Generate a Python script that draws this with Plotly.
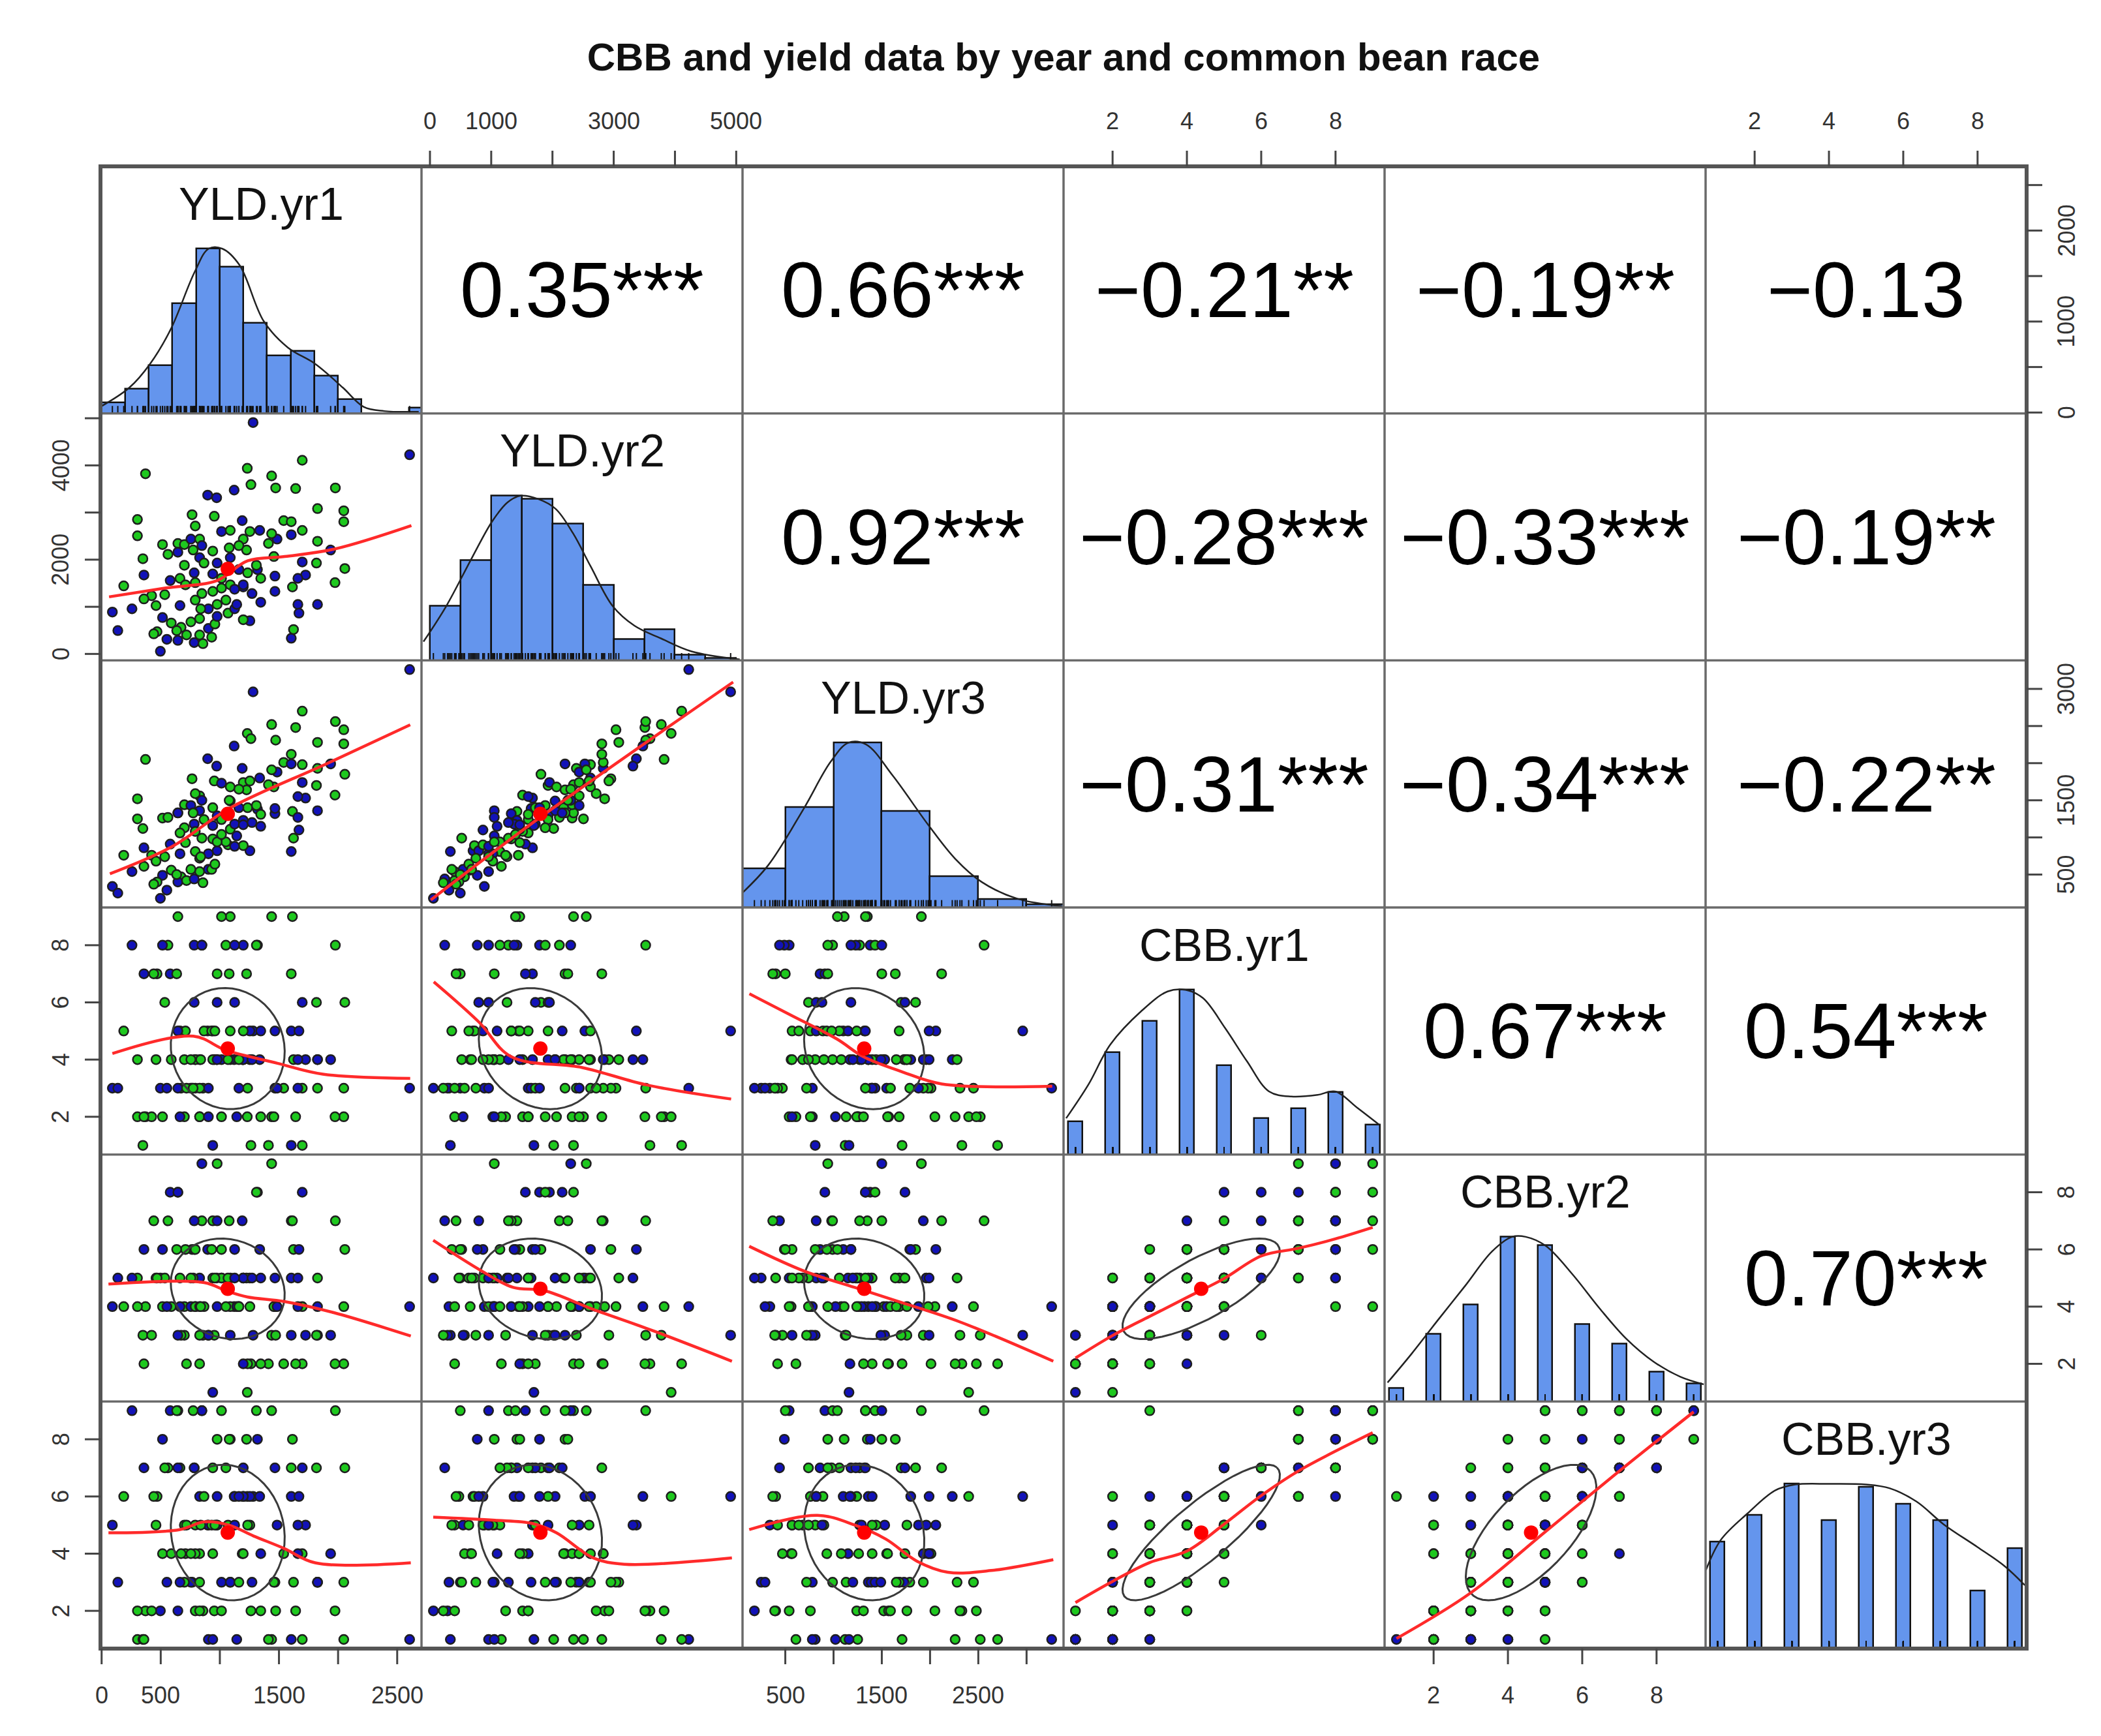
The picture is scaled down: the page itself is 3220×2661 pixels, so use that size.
import numpy as np
import plotly.graph_objects as go
from plotly.subplots import make_subplots

# ---------------- data ----------------
var_names = ["YLD.yr1", "YLD.yr2", "YLD.yr3", "CBB.yr1", "CBB.yr2", "CBB.yr3"]

# N = navy points, G = green points (two common bean races)
race = ["N", "N", "G", "G", "G", "G", "G", "G", "G", "G",
        "N", "N", "N", "G", "G", "G", "G", "G", "G", "G",
        "N", "G", "G", "G", "N", "G", "N", "G", "N", "G",
        "N", "N", "N", "N", "G", "G", "N", "N", "G", "N",
        "G", "G", "N", "N", "N", "G", "N", "N", "N", "N",
        "N", "N", "G", "G", "N", "N", "G", "G", "G", "G",
        "G", "N", "G", "G", "N", "G", "G", "G", "G", "G",
        "N", "N", "N", "G", "N", "G", "G", "N", "G", "G",
        "G", "G", "N", "G", "G", "G", "G", "G", "N", "G",
        "G", "G", "G", "N", "G", "G", "G", "N", "N", "G",
        "N", "G", "G", "N", "G", "G", "N", "N", "G", "G",
        "G", "N", "N", "G", "G", "G", "N", "N", "N", "G",
        "N", "N", "N", "G", "N", "G", "G", "G", "G", "G"]

yld_yr1 = [1281, 2605, 1697, 371, 1232, 1263, 1438, 1472, 1641, 1977,
           897, 973, 1121, 1826, 2048, 2048, 303, 303, 765, 953,
           1189, 1540, 1604, 1697, 1604, 1826, 1937, 349, 358, 187,
           91, 257, 137, 497, 2057, 1974, 1826, 1604, 1623, 1254,
           1198, 1817, 1697, 1725, 1660, 1614, 1660, 1669, 1466, 1466,
           1346, 1318, 1457, 1411, 1484, 1337, 1438, 515, 561, 645,
           700, 755, 829, 792, 1014, 1088, 1198, 1254, 1226, 940,
           829, 977, 1088, 866, 783, 700, 663, 580, 792, 709,
           1235, 1309, 1198, 1088, 1014, 940, 848, 792, 663, 534,
           423, 358, 460, 515, 589, 672, 469, 552, 645, 718,
           783, 857, 829, 903, 931, 958, 977, 903, 829, 838,
           1069, 1125, 1143, 1051, 977, 1014, 1125, 1198, 1272, 1346,
           1161, 940, 848, 774, 645, 1079, 1161, 635, 441, 755]

yld_yr2 = [4909, 4225, 4109, 3823, 3938, 3592, 3777, 3522, 3509, 3522,
           3370, 3314, 3476, 3083, 3037, 2806, 2852, 2506, 2954, 2921,
           2829, 2829, 2806, 2621, 2529, 2390, 2205, 2020, 1674, 1443,
           888, 957, 495, 56, 1812, 1512, 1050, 333, 518, 703,
           726, 1928, 1951, 1674, 1604, 1420, 1050, 865, 1327, 1651,
           1096, 1789, 2066, 2344, 2436, 2621, 2552, 2321, 2113, 2344,
           2321, 2436, 2436, 2714, 2598, 2621, 2436, 2598, 2205, 2182,
           2043, 1928, 2043, 1928, 1720, 1882, 1604, 1558, 1512, 1466,
           1720, 1882, 1420, 1466, 1604, 1327, 1281, 1142, 1026, 1258,
           1235, 1166, 1026, 772, 657, 564, 472, 310, 287, 403,
           241, 218, 403, 541, 356, 634, 796, 957, 749, 957,
           865, 957, 1050, 1142, 1050, 1396, 1373, 1466, 1281, 1604,
           1789, 1697, 2298, 2205, 2159, 2251, 2298, 495, 426, 680]

yld_yr3 = [2960, 3260, 2700, 2050, 2400, 2330, 2520, 2310, 2480, 2560,
           2060, 1960, 2230, 2280, 2450, 2260, 1520, 1250, 1790, 1760,
           1930, 2010, 2120, 1980, 1990, 1930, 1990, 1120, 860, 760,
           340, 540, 250, 180, 1850, 1570, 1360, 810, 990, 820,
           890, 1700, 1740, 1530, 1550, 1350, 1270, 1100, 1320, 1390,
           1150, 1380, 1680, 1710, 1880, 1800, 1910, 1260, 1270, 1330,
           1440, 1430, 1560, 1590, 1730, 1680, 1740, 1760, 1640, 1400,
           1360, 1290, 1490, 1240, 1180, 1130, 1060, 910, 1080, 930,
           1400, 1430, 1230, 1110, 1240, 980, 990, 810, 780, 740,
           760, 610, 680, 490, 560, 470, 400, 290, 400, 420,
           440, 390, 540, 570, 570, 640, 820, 780, 720, 740,
           900, 880, 1020, 940, 940, 1040, 1180, 1170, 1200, 1310,
           1400, 1160, 1500, 1330, 1330, 1500, 1650, 500, 370, 570]

cbb_yr1 = [5, 3, 1, 2, 2, 1, 2, 3, 2, 8,
           5, 4, 4, 4, 3, 2, 4, 2, 3, 4,
           4, 3, 7, 3, 5, 3, 4, 1, 7, 5,
           3, 8, 3, 3, 6, 2, 4, 1, 4, 5,
           5, 6, 6, 4, 3, 9, 4, 5, 5, 3,
           5, 8, 2, 1, 3, 4, 9, 2, 8, 9,
           4, 3, 2, 3, 4, 5, 4, 4, 7, 4,
           4, 4, 4, 5, 6, 2, 5, 7, 4, 5,
           3, 8, 8, 9, 2, 5, 8, 4, 2, 6,
           2, 2, 4, 8, 4, 3, 7, 3, 3, 3,
           8, 3, 2, 2, 5, 5, 6, 3, 3, 4,
           4, 6, 2, 8, 7, 9, 8, 4, 4, 2,
           3, 1, 8, 3, 5, 7, 4, 7, 7, 4]

cbb_yr2 = [3, 4, 2, 4, 1, 2, 3, 3, 2, 7,
           6, 5, 4, 5, 4, 2, 4, 5, 6, 3,
           7, 2, 7, 4, 5, 3, 3, 3, 6, 4,
           4, 5, 5, 5, 6, 2, 4, 3, 6, 5,
           5, 3, 8, 3, 4, 7, 5, 6, 4, 5,
           5, 8, 4, 2, 4, 6, 9, 4, 7, 8,
           4, 4, 2, 4, 5, 5, 5, 4, 5, 5,
           5, 4, 3, 4, 6, 3, 5, 8, 4, 6,
           2, 8, 5, 4, 5, 7, 7, 6, 4, 5,
           3, 2, 5, 6, 4, 3, 5, 4, 3, 2,
           7, 3, 4, 3, 6, 5, 7, 3, 3, 4,
           5, 5, 4, 4, 9, 6, 6, 2, 5, 2,
           4, 1, 9, 5, 8, 7, 4, 6, 7, 5]

cbb_yr3 = [6, 1, 1, 2, 6, 2, 1, 2, 2, 9,
           5, 5, 6, 3, 3, 1, 2, 1, 3, 2,
           4, 4, 7, 4, 6, 3, 4, 1, 7, 6,
           5, 9, 3, 2, 7, 2, 3, 1, 3, 6,
           6, 7, 7, 5, 4, 8, 5, 6, 7, 3,
           4, 8, 3, 1, 5, 6, 9, 4, 7, 9,
           5, 3, 4, 2, 3, 3, 4, 5, 8, 4,
           6, 5, 3, 6, 7, 3, 7, 9, 4, 4,
           5, 9, 7, 8, 2, 7, 9, 5, 3, 7,
           2, 1, 5, 8, 4, 4, 6, 3, 2, 5,
           7, 2, 2, 5, 5, 5, 6, 1, 3, 5,
           5, 5, 1, 7, 8, 9, 6, 6, 3, 2,
           6, 1, 9, 9, 7, 8, 3, 9, 6, 4]

# diagonal histograms (bar height relative to the tallest bar)
hist_yld1_breaks = [0, 200, 400, 600, 800, 1000, 1200, 1400, 1600, 1800, 2000, 2200, 2400, 2600, 2800]
hist_yld1 = [0.067, 0.15, 0.29, 0.67, 1.0, 0.89, 0.55, 0.35, 0.38, 0.23, 0.085, 0.0, 0.0, 0.036]
hist_yld2_breaks = [0, 500, 1000, 1500, 2000, 2500, 3000, 3500, 4000, 4500, 5000]
hist_yld2 = [0.33, 0.61, 1.0, 0.98, 0.83, 0.46, 0.13, 0.19, 0.036, 0.016]
hist_yld3_breaks = [0, 500, 1000, 1500, 2000, 2500, 3000, 3500]
hist_yld3 = [0.235, 0.61, 1.0, 0.585, 0.19, 0.05, 0.02]
cbb_levels = [1, 2, 3, 4, 5, 6, 7, 8, 9]
hist_cbb1 = [0.20, 0.62, 0.81, 1.0, 0.54, 0.22, 0.28, 0.38, 0.18]
hist_cbb2 = [0.08, 0.41, 0.59, 1.0, 0.95, 0.47, 0.35, 0.18, 0.11]
hist_cbb3 = [0.65, 0.81, 1.0, 0.78, 0.98, 0.88, 0.78, 0.35, 0.61]

# diagonal density curves (scaled to max 1)
dens_yld1_x = [-10, 234, 409, 584, 788, 905, 1021, 1167, 1371, 1575, 1808, 2041, 2216, 2391, 2682]
dens_yld1_y = [0.04, 0.156, 0.30, 0.51, 0.86, 1.0, 1.0, 0.90, 0.56, 0.40, 0.30, 0.156, 0.04, 0.014, 0.01]
dens_yld2_x = [-106, 266, 695, 1017, 1267, 1481, 1767, 2053, 2339, 2625, 2983, 3341, 3770, 4270, 5057]
dens_yld2_y = [0.114, 0.33, 0.63, 0.845, 0.96, 1.0, 0.98, 0.92, 0.77, 0.57, 0.33, 0.21, 0.134, 0.055, 0.006]
dens_yld3_x = [27, 321, 691, 968, 1152, 1337, 1614, 1983, 2260, 2537, 2906, 3367]
dens_yld3_y = [0.073, 0.255, 0.60, 0.883, 1.0, 0.99, 0.80, 0.50, 0.296, 0.154, 0.053, 0.008]
dens_cbb1_x = [0.75, 1.35, 1.94, 2.77, 3.48, 3.96, 4.43, 5.03, 5.62, 6.21, 6.81, 7.52, 7.99, 8.59, 9.18]
dens_cbb1_y = [0.22, 0.425, 0.668, 0.87, 0.99, 1.0, 0.95, 0.767, 0.565, 0.383, 0.352, 0.362, 0.383, 0.283, 0.18]
dens_cbb2_x = [0.76, 1.40, 2.12, 2.85, 3.57, 4.11, 4.48, 5.02, 5.74, 6.47, 7.19, 7.92, 8.64, 9.27]
dens_cbb2_y = [0.115, 0.288, 0.496, 0.703, 0.911, 1.0, 1.0, 0.945, 0.772, 0.565, 0.38, 0.242, 0.15, 0.104]
dens_cbb3_x = [0.69, 1.09, 1.82, 2.55, 3.09, 4.0, 5.0, 5.64, 6.36, 7.09, 8.0, 8.73, 9.27]
dens_cbb3_y = [0.477, 0.66, 0.823, 0.96, 0.996, 1.0, 0.996, 0.973, 0.892, 0.754, 0.616, 0.5, 0.385]

# red smoothers in the lower panels, (row, col) -> x, y
smooth_x_21 = [63, 534, 977, 1235, 1549, 1974, 2620]
smooth_y_21 = [1211, 1396, 1558, 1974, 2066, 2228, 2723]
smooth_x_31 = [70, 600, 1090, 1900, 2610]
smooth_y_31 = [510, 880, 1400, 1990, 2516]
smooth_x_32 = [14, 1765, 4950]
smooth_y_32 = [158, 1250, 3092]
smooth_x_41 = [91, 776, 1050, 1488, 1871, 2610]
smooth_y_41 = [4.21, 4.82, 4.33, 3.87, 3.49, 3.34]
smooth_x_42 = [62, 800, 1327, 2489, 3545, 4917]
smooth_y_42 = [6.72, 5.31, 4.10, 3.72, 3.11, 2.62]
smooth_x_43 = [128, 567, 1039, 1309, 1713, 2119, 3266]
smooth_y_43 = [6.30, 5.54, 4.71, 4.10, 3.57, 3.15, 3.07]
smooth_x_51 = [58, 867, 1050, 1232, 1545, 1963, 2615]
smooth_y_51 = [4.79, 4.84, 4.56, 4.34, 4.18, 3.79, 2.97]
smooth_x_52 = [53, 857, 1360, 1863, 2668, 3674, 4930]
smooth_y_52 = [6.32, 5.23, 4.67, 4.56, 3.90, 3.13, 2.09]
smooth_x_53 = [126, 705, 1220, 1670, 2313, 3277]
smooth_y_53 = [6.11, 5.23, 4.67, 4.18, 3.46, 2.09]
smooth_x_54 = [1, 2, 3, 4, 5, 6, 7, 8, 9]
smooth_y_54 = [2.2, 2.99, 3.66, 4.32, 4.98, 5.77, 6.04, 6.37, 6.77]
smooth_x_61 = [58, 658, 867, 1075, 1284, 1545, 1806, 2615]
smooth_y_61 = [4.73, 4.84, 5.11, 5.0, 4.62, 4.18, 3.68, 3.68]
smooth_x_62 = [53, 1059, 1662, 2065, 2668, 3171, 4930]
smooth_y_62 = [5.28, 5.17, 5.06, 4.73, 3.85, 3.63, 3.85]
smooth_x_63 = [126, 833, 1220, 1541, 1863, 2184, 2634, 3277]
smooth_y_63 = [4.84, 5.34, 5.0, 4.51, 3.74, 3.35, 3.41, 3.79]
smooth_x_64 = [1, 2, 3, 4, 5, 6, 7, 9]
smooth_y_64 = [2.29, 3.03, 3.69, 4.09, 5.03, 6.03, 6.89, 8.23]
smooth_x_65 = [1, 3, 5, 7, 9]
smooth_y_65 = [1.03, 2.63, 4.76, 6.89, 8.96]

# correlations printed in the upper panels
corr_labels = {
    (1, 2): "0.35***", (1, 3): "0.66***", (1, 4): "\u22120.21**", (1, 5): "\u22120.19**", (1, 6): "\u22120.13",
    (2, 3): "0.92***", (2, 4): "\u22120.28***", (2, 5): "\u22120.33***", (2, 6): "\u22120.19**",
    (3, 4): "\u22120.31***", (3, 5): "\u22120.34***", (3, 6): "\u22120.22**",
    (4, 5): "0.67***", (4, 6): "0.54***",
    (5, 6): "0.70***",
}

# outer axis ticks: (side, panel index, tick values, tick labels)
outer_ticks = [
    ("bottom", 1, [0, 500, 1000, 1500, 2000, 2500], ["0", "500", "", "1500", "", "2500"]),
    ("bottom", 3, [500, 1000, 1500, 2000, 2500, 3000], ["500", "", "1500", "", "2500", ""]),
    ("bottom", 5, [2, 4, 6, 8], ["2", "4", "6", "8"]),
    ("top", 2, [0, 1000, 2000, 3000, 4000, 5000], ["0", "1000", "", "3000", "", "5000"]),
    ("top", 4, [2, 4, 6, 8], ["2", "4", "6", "8"]),
    ("top", 6, [2, 4, 6, 8], ["2", "4", "6", "8"]),
    ("left", 2, [0, 1000, 2000, 3000, 4000, 5000], ["0", "", "2000", "", "4000", ""]),
    ("left", 4, [2, 4, 6, 8], ["2", "4", "6", "8"]),
    ("left", 6, [2, 4, 6, 8], ["2", "4", "6", "8"]),
    ("right", 1, [0, 500, 1000, 1500, 2000, 2500], ["0", "", "1000", "", "2000", ""]),
    ("right", 3, [500, 1000, 1500, 2000, 2500, 3000], ["500", "", "1500", "", "", "3000"]),
    ("right", 5, [2, 4, 6, 8], ["2", "4", "6", "8"]),
]

# ---------------- figure ----------------
FONT = "Liberation Sans, Arial, Helvetica, sans-serif"
# the page body keeps an 8 px margin, so the figure is 16 px smaller than the window
W, H = 3204, 2645
ML, MR, MT, MB = 146, 106, 247, 126
PW, PH = W - ML - MR, H - MT - MB
data = [np.array(v, float) for v in (yld_yr1, yld_yr2, yld_yr3, cbb_yr1, cbb_yr2, cbb_yr3)]


def pad_range(v):
    lo, hi = v.min(), v.max()
    d = 0.04 * (hi - lo)
    return [lo - d, hi + d]


ranges = [pad_range(v) for v in data]
race_fill = {"N": "#1212b8", "G": "#1ec81e"}
pt_fill = [race_fill[r] for r in race]

smooth = {
    (2, 1): (smooth_x_21, smooth_y_21), (3, 1): (smooth_x_31, smooth_y_31), (3, 2): (smooth_x_32, smooth_y_32),
    (4, 1): (smooth_x_41, smooth_y_41), (4, 2): (smooth_x_42, smooth_y_42), (4, 3): (smooth_x_43, smooth_y_43),
    (5, 1): (smooth_x_51, smooth_y_51), (5, 2): (smooth_x_52, smooth_y_52), (5, 3): (smooth_x_53, smooth_y_53),
    (5, 4): (smooth_x_54, smooth_y_54), (6, 1): (smooth_x_61, smooth_y_61), (6, 2): (smooth_x_62, smooth_y_62),
    (6, 3): (smooth_x_63, smooth_y_63), (6, 4): (smooth_x_64, smooth_y_64), (6, 5): (smooth_x_65, smooth_y_65),
}
diag_hist = [
    (hist_yld1_breaks, hist_yld1), (hist_yld2_breaks, hist_yld2), (hist_yld3_breaks, hist_yld3),
    (cbb_levels, hist_cbb1), (cbb_levels, hist_cbb2), (cbb_levels, hist_cbb3),
]
diag_dens = [
    (dens_yld1_x, dens_yld1_y), (dens_yld2_x, dens_yld2_y), (dens_yld3_x, dens_yld3_y),
    (dens_cbb1_x, dens_cbb1_y), (dens_cbb2_x, dens_cbb2_y), (dens_cbb3_x, dens_cbb3_y),
]


def ellipse(x, y, segments=51):
    # correlation ellipse at one standard deviation (as psych::draw.ellipse)
    r = np.corrcoef(x, y)[0, 1]
    th = np.sign(r) / np.sqrt(2)
    a, b = np.sqrt(1 + r), np.sqrt(1 - r)
    t = np.linspace(0, 2 * np.pi, segments + 1)
    ex = np.cos(t) * a * th - np.sin(t) * b * th
    ey = np.cos(t) * a * th + np.sin(t) * b * th
    return ex * x.std(ddof=1) + x.mean(), ey * y.std(ddof=1) + y.mean()


fig = make_subplots(rows=6, cols=6, horizontal_spacing=0, vertical_spacing=0)
annotations = []
shapes = []

for r in range(1, 7):
    for c in range(1, 7):
        xv, yv = data[c - 1], data[r - 1]
        if r == c:
            i = r - 1
            breaks, heights = diag_hist[i]
            if i < 3:
                centers = [(breaks[k] + breaks[k + 1]) / 2 for k in range(len(heights))]
                widths = [breaks[k + 1] - breaks[k] for k in range(len(heights))]
            else:
                centers = breaks
                widths = [0.39] * len(heights)
            fig.add_trace(go.Bar(x=centers, y=heights, width=widths, marker=dict(
                color="#6495ED", line=dict(color="#111111", width=2.5)),
                showlegend=False, hoverinfo="skip"), row=r, col=c)
            dx, dy = diag_dens[i]
            fig.add_trace(go.Scatter(x=dx, y=dy, mode="lines", line=dict(color="#222222", width=2.5, shape="spline"),
                                     showlegend=False, hoverinfo="skip"), row=r, col=c)
            rx, ry = [], []
            for v in xv:
                rx += [v, v, None]
                ry += [0, 0.045, None]
            fig.add_trace(go.Scatter(x=rx, y=ry, mode="lines", line=dict(color="#111111", width=2),
                                     showlegend=False, hoverinfo="skip"), row=r, col=c)
            annotations.append(dict(text=var_names[i], xref="paper", yref="paper",
                                    x=(c - 0.5) / 6, y=1 - (r - 1) / 6 - 0.152 / 6,
                                    xanchor="center", yanchor="middle", showarrow=False,
                                    font=dict(family=FONT, size=70, color="#111111")))
        elif r > c:
            fig.add_trace(go.Scatter(x=xv, y=yv, mode="markers", marker=dict(
                size=14, color=pt_fill, line=dict(color="#1e1e1e", width=2.5)),
                showlegend=False, hoverinfo="skip"), row=r, col=c)
            if r >= 4:
                ex, ey = ellipse(xv, yv)
                fig.add_trace(go.Scatter(x=ex, y=ey, mode="lines", line=dict(color="#3a3a3a", width=3),
                                         showlegend=False, hoverinfo="skip"), row=r, col=c)
            sx, sy = smooth[(r, c)]
            fig.add_trace(go.Scatter(x=sx, y=sy, mode="lines", line=dict(color="#ff2a2a", width=4.5, shape="spline"),
                                     showlegend=False, hoverinfo="skip"), row=r, col=c)
            fig.add_trace(go.Scatter(x=[xv.mean()], y=[yv.mean()], mode="markers",
                                     marker=dict(size=22, color="#ff0000"),
                                     showlegend=False, hoverinfo="skip"), row=r, col=c)
        else:
            annotations.append(dict(text=corr_labels[(r, c)], xref="paper", yref="paper",
                                    x=(c - 0.5) / 6, y=1 - (r - 0.5) / 6,
                                    xanchor="center", yanchor="middle", showarrow=False,
                                    font=dict(family=FONT, size=120, color="#000000")))
        fig.update_xaxes(range=ranges[c - 1], row=r, col=c)
        fig.update_yaxes(range=[0, 1.5] if r == c else ranges[r - 1], row=r, col=c)
        shapes.append(dict(type="rect", xref="paper", yref="paper", x0=(c - 1) / 6, x1=c / 6,
                           y0=1 - r / 6, y1=1 - (r - 1) / 6, line=dict(color="#6a6a6a", width=3)))

shapes.append(dict(type="rect", xref="paper", yref="paper", x0=0, x1=1, y0=0, y1=1,
                   line=dict(color="#555555", width=6)))

# outer ticks and labels, placed through each panel's axis range
TICK = 24
tick_line = dict(color="#444444", width=3)
tick_font = dict(family=FONT, size=36, color="#333333")
for side, k, vals, labels in outer_ticks:
    lo, hi = ranges[k - 1]
    for v, lab in zip(vals, labels):
        f = (v - lo) / (hi - lo)
        if side in ("bottom", "top"):
            px = (k - 1 + f) / 6
            if side == "bottom":
                y0, y1, yl = 0, -TICK / PH, -71 / PH
            else:
                y0, y1, yl = 1, 1 + TICK / PH, 1 + 70 / PH
            shapes.append(dict(type="line", xref="paper", yref="paper", x0=px, x1=px, y0=y0, y1=y1, line=tick_line))
            if lab:
                annotations.append(dict(text=lab, xref="paper", yref="paper", x=px, y=yl, xanchor="center",
                                        yanchor="middle", showarrow=False, font=tick_font))
        else:
            py = (6 - k + f) / 6
            if side == "left":
                x0, x1, xl = 0, -TICK / PW, -61 / PW
            else:
                x0, x1, xl = 1, 1 + TICK / PW, 1 + 61 / PW
            shapes.append(dict(type="line", xref="paper", yref="paper", x0=x0, x1=x1, y0=py, y1=py, line=tick_line))
            if lab:
                annotations.append(dict(text=lab, xref="paper", yref="paper", x=xl, y=py, xanchor="center",
                                        yanchor="middle", textangle=-90, showarrow=False, font=tick_font))

fig.update_xaxes(showgrid=False, zeroline=False, showline=False, ticks="", showticklabels=False, fixedrange=True)
fig.update_yaxes(showgrid=False, zeroline=False, showline=False, ticks="", showticklabels=False, fixedrange=True)

fig.update_layout(
    width=W, height=H,
    margin=dict(l=ML, r=MR, t=MT, b=MB),
    paper_bgcolor="white", plot_bgcolor="white",
    title=dict(text="<b>CBB and yield data by year and common bean race</b>", x=0.5, xref="paper",
               xanchor="center", y=1 - 79 / H, yref="container", yanchor="middle",
               font=dict(family=FONT, size=60, color="#111111")),
    annotations=annotations, shapes=shapes, showlegend=False, bargap=0,
)

fig.write_html("out.html")
